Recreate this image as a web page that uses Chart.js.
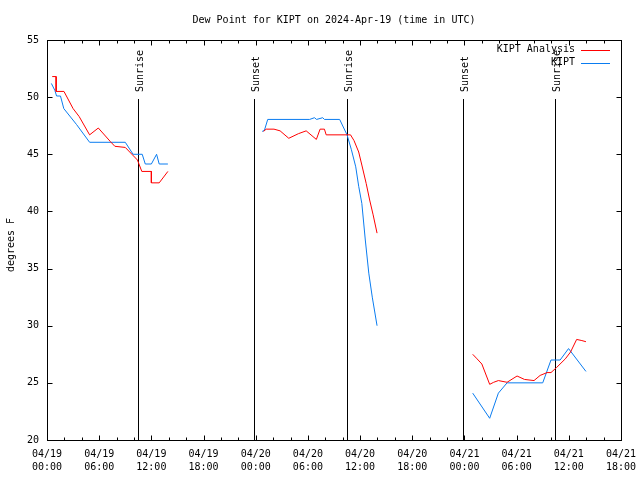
<!DOCTYPE html>
<html>
<head>
<meta charset="utf-8">
<script src="https://cdn.jsdelivr.net/npm/chart.js@4"></script>
<style>
  html, body { margin: 0; padding: 0; background: #fff; }
</style>
</head>
<body>
<canvas id="dew" width="640" height="480"></canvas>
<script>
// hours since 04/19 00:00 UTC; null temp = gap between segments
const analysisHours = [0.6, 1.05, 1.05, 1.95, 3.0, 3.7, 4.9, 5.9, 7.3, 7.8, 9.0, 10.4, 10.9, 12.0, 12.0, 12.9, 13.9,
    18,
    24.9, 25.2, 26.1, 26.8, 27.8, 28.9, 29.8, 30.97, 31.4, 31.9, 32.1, 34.9, 35.3, 35.84, 36.2, 36.7, 37.1, 37.5, 37.95,
    43,
    48.95, 49.45, 50.0, 50.9, 51.36, 51.9, 52.9, 54.05, 54.9, 56.0, 56.7, 57.5, 57.95, 58.6, 59.6, 60.2, 60.9, 61.5, 61.97];
const analysisTemps = [51.8, 51.8, 50.5, 50.5, 49.0, 48.3, 46.7, 47.3, 46.1, 45.7, 45.6, 44.5, 43.5, 43.5, 42.5, 42.5, 43.5,
    null,
    47.0, 47.2, 47.2, 47.05, 46.4, 46.8, 47.05, 46.3, 47.2, 47.2, 46.7, 46.7, 46.2, 45.2, 44.06, 42.45, 41.0, 39.7, 38.1,
    null,
    27.5, 27.1, 26.65, 24.87, 25.05, 25.2, 25.05, 25.6, 25.3, 25.2, 25.65, 25.9, 25.9, 26.35, 27.1, 27.7, 28.8, 28.7, 28.6];

const obsHours = [0.5, 0.9, 1.1, 1.55, 1.93, 3.4, 4.9, 9.0, 9.9, 10.95, 11.3, 12.0, 12.6, 12.9, 13.9,
    18,
    24.74, 25.0, 25.38, 30.2, 30.75, 31.0, 31.7, 31.9, 33.65, 34.5, 35.0, 35.5, 35.84, 36.2, 36.6, 37.0, 37.4, 37.95,
    43,
    48.95, 50.9, 51.9, 52.9, 57.0, 57.95, 59.0, 59.97, 61.97];
const obsTemps = [51.2, 50.6, 50.1, 50.1, 49.0, 47.6, 46.05, 46.05, 45.0, 45.0, 44.15, 44.15, 45.0, 44.15, 44.15,
    null,
    47.0, 47.1, 48.05, 48.05, 48.2, 48.05, 48.2, 48.05, 48.05, 46.7, 45.4, 43.9, 42.2, 40.7, 37.5, 34.6, 32.5, 30.0,
    null,
    24.1, 21.9, 24.1, 25.0, 25.0, 27.0, 27.0, 28.0, 26.0];

const sunHours = [10.45, 23.78, 34.45, 47.8, 58.4];
const sunLabels = ['Sunrise', 'Sunset', 'Sunrise', 'Sunset', 'Sunrise'];

const xDates = ['04/19', '04/20', '04/21'];
const yMin = 20, yMax = 55;

const FONT = '10px "DejaVu Sans Mono"';

function toPoints(hours, temps) {
    return hours.map((h, i) => ({ x: h, y: temps[i] }));
}

function xTickLabel(v) {
    if (v % 6 !== 0) return '';
    const day = xDates[Math.floor(v / 24)];
    const hh = String(v % 24).padStart(2, '0');
    return [day, hh + ':00'];
}

// gnuplot style frame, inward ticks, title, key and sunrise/sunset markers
const gnuplotLook = {
    id: 'gnuplotLook',
    beforeDatasetsDraw(chart) {
        const ctx = chart.ctx, area = chart.chartArea, xs = chart.scales.x;
        ctx.save();
        ctx.strokeStyle = '#000';
        ctx.lineWidth = 1;
        ctx.fillStyle = '#000';
        ctx.font = FONT;
        sunHours.forEach((h, i) => {
            const x = Math.round(xs.getPixelForValue(h)) + 0.5;
            ctx.beginPath();
            ctx.moveTo(x, area.bottom);
            ctx.lineTo(x, 99);
            ctx.stroke();
            ctx.save();
            ctx.translate(x + 1.5, 92);
            ctx.rotate(-Math.PI / 2);
            ctx.textAlign = 'left';
            ctx.textBaseline = 'middle';
            ctx.fillText(sunLabels[i], 0, 0);
            ctx.restore();
        });
        ctx.restore();
    },
    afterDraw(chart) {
        const ctx = chart.ctx, area = chart.chartArea;
        const xs = chart.scales.x, ys = chart.scales.y;
        ctx.save();
        ctx.strokeStyle = '#000';
        ctx.lineWidth = 1;
        const L = Math.round(area.left) + 0.5, R = Math.round(area.right) + 0.5;
        const T = Math.round(area.top) + 0.5, B = Math.round(area.bottom) + 0.5;
        ctx.strokeRect(L, T, R - L, B - T);

        ctx.beginPath();
        xs.ticks.forEach(t => {
            const x = Math.round(xs.getPixelForValue(t.value)) + 0.5;
            const len = t.value % 6 === 0 ? 5 : 3;
            ctx.moveTo(x, B); ctx.lineTo(x, B - len);
            ctx.moveTo(x, T); ctx.lineTo(x, T + len);
        });
        ys.ticks.forEach(t => {
            const y = Math.round(ys.getPixelForValue(t.value)) + 0.5;
            ctx.moveTo(L, y); ctx.lineTo(L + 5, y);
            ctx.moveTo(R, y); ctx.lineTo(R - 5, y);
        });
        ctx.stroke();

        ctx.fillStyle = '#000';
        ctx.font = FONT;
        ctx.textAlign = 'center';
        ctx.textBaseline = 'middle';
        ctx.fillText('Dew Point for KIPT on 2024-Apr-19 (time in UTC)', (area.left + area.right) / 2, 20);

        ctx.save();
        ctx.translate(11, 245);
        ctx.rotate(-Math.PI / 2);
        ctx.fillText('degrees F', 0, 0);
        ctx.restore();

        // key
        ctx.textAlign = 'right';
        chart.data.datasets.forEach((ds, i) => {
            const y = 49.5 + i * 13;
            ctx.fillStyle = '#000';
            ctx.fillText(ds.label, 575, y);
            ctx.strokeStyle = ds.borderColor;
            ctx.beginPath();
            ctx.moveTo(581, Math.round(y) + 0.5);
            ctx.lineTo(610, Math.round(y) + 0.5);
            ctx.stroke();
        });
        ctx.restore();
    }
};

new Chart(document.getElementById('dew'), {
    type: 'line',
    data: {
        datasets: [{
            label: 'KIPT Analysis',
            data: toPoints(analysisHours, analysisTemps),
            borderColor: '#ff0000',
            borderWidth: 1,
            pointRadius: 0,
            tension: 0,
            spanGaps: false
        }, {
            label: 'KIPT',
            data: toPoints(obsHours, obsTemps),
            borderColor: '#0a7cf0',
            borderWidth: 1,
            pointRadius: 0,
            tension: 0,
            spanGaps: false
        }]
    },
    options: {
        responsive: false,
        animation: false,
        devicePixelRatio: 1,
        layout: { padding: { top: 40, right: 19, left: 0, bottom: 0 } },
        plugins: {
            legend: { display: false },
            tooltip: { enabled: false }
        },
        scales: {
            x: {
                type: 'linear',
                min: 0,
                max: 66,
                grid: { display: false, drawTicks: false },
                border: { display: false },
                afterFit(scale) {
                    scale.height = 40;
                    scale.paddingLeft = 0;
                    scale.paddingRight = 0;
                },
                ticks: {
                    stepSize: 2,
                    autoSkip: false,
                    maxRotation: 0,
                    padding: 8,
                    color: '#000',
                    font: { family: 'DejaVu Sans Mono', size: 10, lineHeight: 1.3 },
                    callback: v => xTickLabel(v)
                }
            },
            y: {
                min: yMin,
                max: yMax,
                grid: { display: false, drawTicks: false },
                border: { display: false },
                afterFit(scale) {
                    scale.width = 47;
                    scale.paddingTop = 0;
                    scale.paddingBottom = 0;
                },
                ticks: {
                    stepSize: 5,
                    padding: 8,
                    color: '#000',
                    font: { family: 'DejaVu Sans Mono', size: 10 }
                }
            }
        }
    },
    plugins: [gnuplotLook]
});
</script>
</body>
</html>
